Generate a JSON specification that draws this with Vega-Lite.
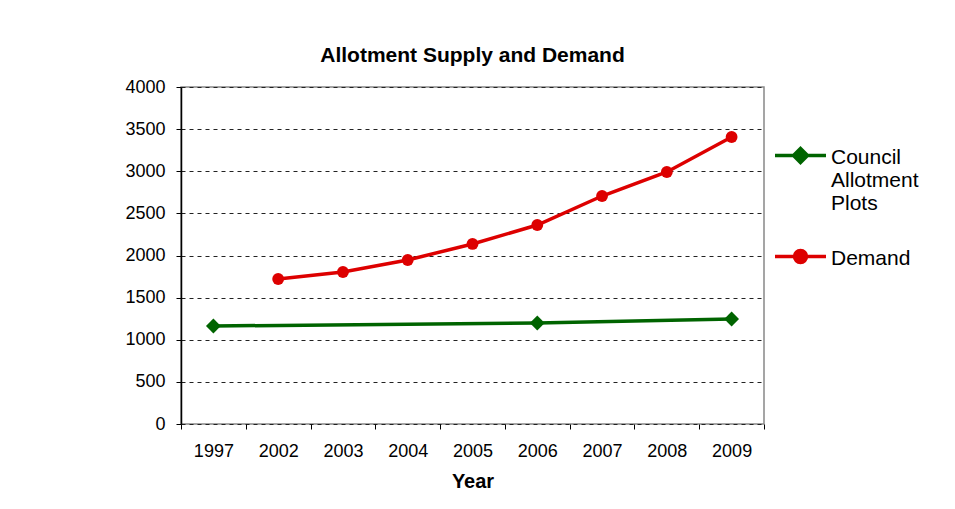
{
  "$schema": "https://vega.github.io/schema/vega-lite/v6.json",
  "autosize": {"type": "none"},
  "padding": {"left": 181, "top": 87, "right": 191, "bottom": 85},
  "width": 583,
  "height": 337,
  "background": "white",
  "title": {"text": "Allotment Supply and Demand", "fontSize": 21, "font": "Liberation Sans", "fontWeight": "bold", "color": "#000", "anchor": "middle", "offset": 12},
  "config": {
    "view": {"stroke": "#888", "strokeWidth": 1.5},
    "axis": {"labelFont": "Liberation Sans", "titleFont": "Liberation Sans", "labelColor": "#000", "titleColor": "#000", "domainColor": "#000", "tickColor": "#000", "tickSize": 5, "labelFontSize": 18}
  },
  "data": {"values": [
    {"year": "1997", "series": "Council Allotment Plots", "value": 1163},
    {"year": "2006", "series": "Council Allotment Plots", "value": 1199},
    {"year": "2009", "series": "Council Allotment Plots", "value": 1246},
    {"year": "2002", "series": "Demand", "value": 1721},
    {"year": "2003", "series": "Demand", "value": 1804},
    {"year": "2004", "series": "Demand", "value": 1947},
    {"year": "2005", "series": "Demand", "value": 2137},
    {"year": "2006", "series": "Demand", "value": 2362},
    {"year": "2007", "series": "Demand", "value": 2706},
    {"year": "2008", "series": "Demand", "value": 2991},
    {"year": "2009", "series": "Demand", "value": 3407}
  ]},
  "encoding": {
    "x": {"field": "year", "type": "ordinal", "bandPosition": 0.5,
      "scale": {"type": "band", "paddingInner": 0, "paddingOuter": 0},
      "axis": {"title": "Year", "titleFontSize": 20, "titleFontWeight": "bold", "titlePadding": 11, "labelAngle": 0, "labelPadding": 13, "tickBand": "extent", "grid": false, "domain": false}},
    "y": {"field": "value", "type": "quantitative",
      "scale": {"domain": [0, 4000], "nice": false},
      "axis": {"title": null, "format": "d", "values": [0, 500, 1000, 1500, 2000, 2500, 3000, 3500, 4000], "labelPadding": 11, "grid": true, "gridColor": "#222", "gridDash": [4, 4], "gridWidth": 1, "domainWidth": 1.5}},
    "color": {"field": "series", "type": "nominal",
      "scale": {"domain": ["Council Allotment Plots", "Demand"], "range": ["#006400", "#dd0000"]},
      "legend": {"title": null, "orient": "none", "legendX": 592, "legendY": 41, "padding": 0,
        "labelFont": "Liberation Sans", "labelFontSize": 21, "labelColor": "#000", "labelLineHeight": 23, "labelLimit": 200,
        "labelBaseline": "top", "labelOffset": 3, "rowPadding": 15, "symbolSize": 2600, "symbolStrokeWidth": 3,
        "labelExpr": "datum.label == 'Council Allotment Plots' ? ['Council','Allotment','Plots'] : datum.label",
        "encode": {
          "symbols": {"update": {
            "shape": {"signal": "datum.value == 'Demand' ? 'M-1,0H1M-0.235,0A0.235,0.235,0,1,1,0.235,0A0.235,0.235,0,1,1,-0.235,0Z' : 'M-1,0H1M0,-0.275L0.275,0L0,0.275L-0.275,0Z'"},
            "size": {"value": 2600},
            "fill": {"scale": "color", "field": "value"},
            "stroke": {"scale": "color", "field": "value"},
            "strokeWidth": {"value": 3.5},
            "fillOpacity": {"value": 1}
          }},
          "labels": {"update": {"dy": {"value": -9}, "lineHeight": {"value": 23}}}
        }
      }
    }
  },
  "layer": [
    {"mark": {"type": "line", "strokeWidth": 3.5}},
    {"transform": [{"filter": "datum.series == 'Council Allotment Plots'"}],
      "mark": {"type": "point", "filled": true, "opacity": 1, "shape": "diamond", "size": 220}},
    {"transform": [{"filter": "datum.series == 'Demand'"}],
      "mark": {"type": "point", "filled": true, "opacity": 1, "shape": "circle", "size": 140}}
  ]
}
